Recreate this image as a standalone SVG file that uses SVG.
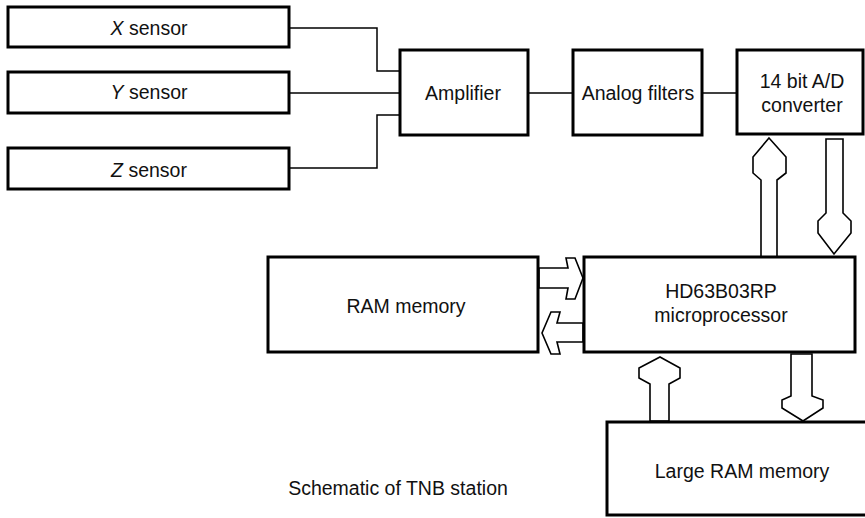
<svg xmlns="http://www.w3.org/2000/svg" width="865" height="518" viewBox="0 0 865 518">
<style>
.box{fill:#fff;stroke:#000;stroke-width:3}
.wire{fill:none;stroke:#000;stroke-width:1.5}
.arr{fill:#fff;stroke:#000;stroke-width:1.6;stroke-linejoin:miter}
text{font-family:"Liberation Sans",Arial,sans-serif;font-size:19.5px;fill:#111;text-anchor:middle}
</style>
<rect width="865" height="518" fill="#fff"/>
<g id="connectors">
<polyline class="wire" points="289,28 377,28 377,71 400,71"/>
<line class="wire" x1="289" y1="93" x2="400" y2="93"/>
<polyline class="wire" points="289,168 377,168 377,115 400,115"/>
<line class="wire" x1="528" y1="93" x2="573" y2="93"/>
<line class="wire" x1="702" y1="93" x2="737" y2="93"/>
<path class="arr" d="M769,138 L786,157 L786,173 L777,180 L777,257 L761,257 L761,180 L753,173 L753,157 Z"/>
<path class="arr" d="M826,139 L843,139 L843,213 L851,221 L851,233 L834,254 L818,233 L818,221 L826,213 Z"/>
<path class="arr" d="M539,268 L568,268 L566,258 L575,258 L583,278 L575,299 L566,299 L568,288 L539,288 Z"/>
<path class="arr" d="M583,323 L557,323 L560,312 L551,312 L542,333 L551,354 L560,354 L557,342 L583,342 Z"/>
<path class="arr" d="M660,357 L680,368 L680,378 L669,384 L669,421 L650,421 L650,384 L639,378 L639,368 Z"/>
<path class="arr" d="M791,354 L812,354 L812,396 L823,400 L823,408 L803,421 L782,408 L782,400 L791,396 Z"/>
</g>
<g id="x-sensor"><rect class="box" x="8" y="7" width="281" height="40"/><text x="149" y="35"><tspan font-style="italic">X</tspan> sensor</text></g>
<g id="y-sensor"><rect class="box" x="8" y="72" width="281" height="41"/><text x="149" y="99"><tspan font-style="italic">Y</tspan> sensor</text></g>
<g id="z-sensor"><rect class="box" x="8" y="148" width="281" height="41"/><text x="149" y="177"><tspan font-style="italic">Z</tspan> sensor</text></g>
<g id="amplifier"><rect class="box" x="400" y="50" width="128" height="85"/><text x="463" y="100">Amplifier</text></g>
<g id="filters"><rect class="box" x="573" y="50" width="129" height="85"/><text x="638" y="100">Analog filters</text></g>
<g id="adc"><rect class="box" x="737" y="50" width="126" height="84"/><text x="802" y="88">14 bit A/D</text><text x="802" y="112">converter</text></g>
<g id="ram"><rect class="box" x="268" y="257" width="270" height="95"/><text x="406" y="313">RAM memory</text></g>
<g id="micro"><rect class="box" x="584" y="257" width="271" height="95"/><text x="721" y="298">HD63B03RP</text><text x="721" y="322">microprocessor</text></g>
<g id="large-ram"><rect class="box" x="607" y="422" width="262" height="93"/><text x="742" y="478">Large RAM memory</text></g>
<g id="caption"><text x="398" y="495">Schematic of TNB station</text></g>
</svg>
